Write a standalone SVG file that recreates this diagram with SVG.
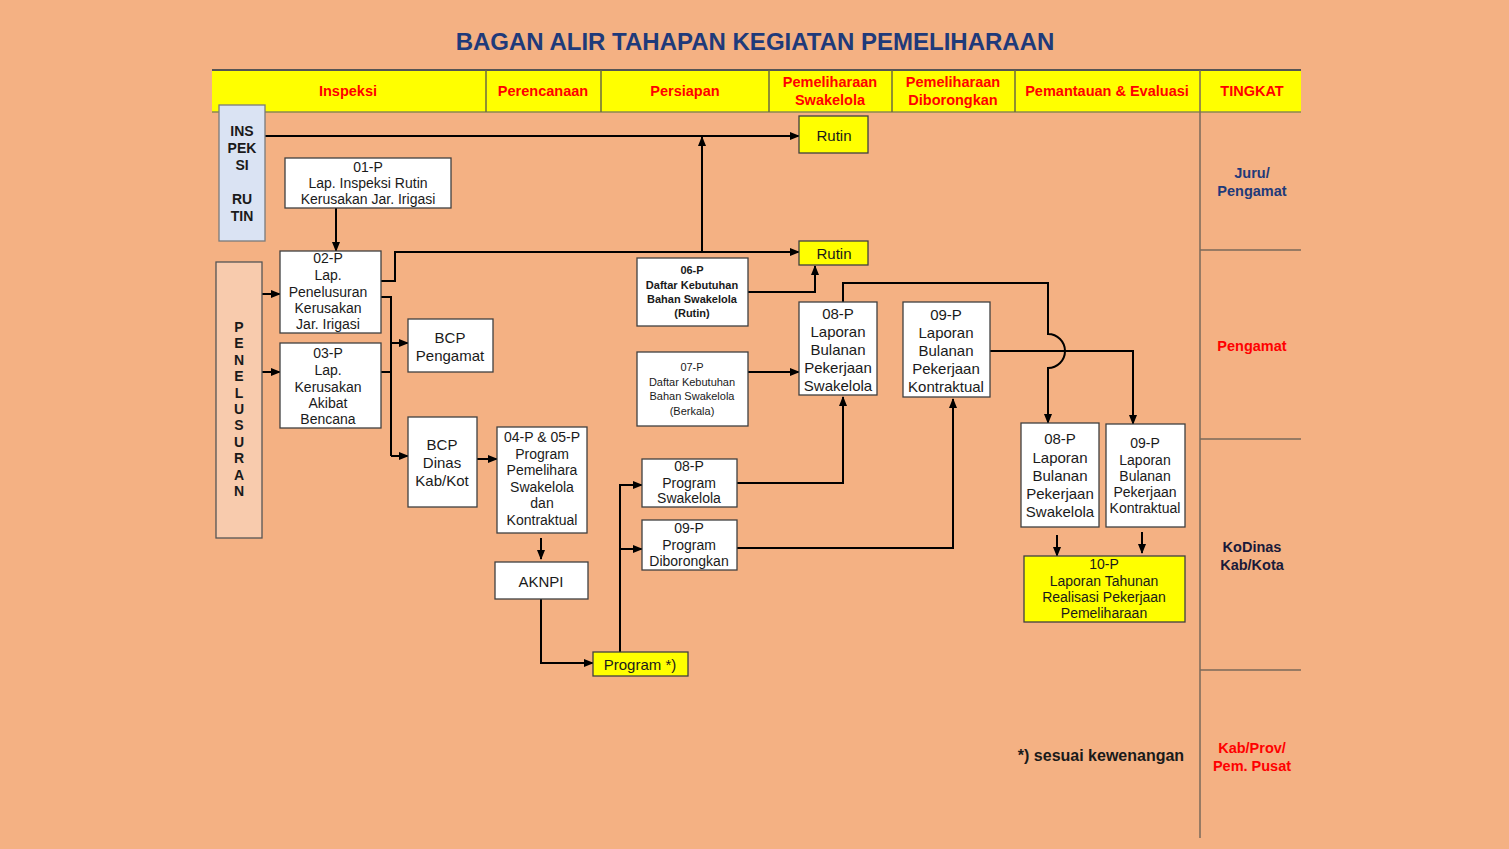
<svg xmlns="http://www.w3.org/2000/svg" width="1509" height="849" viewBox="0 0 1509 849">
<defs>
<marker id="ah" markerWidth="10" markerHeight="10" refX="9" refY="5" orient="auto" markerUnits="userSpaceOnUse">
<path d="M0,1 L10,5 L0,9 Z" fill="#000"/>
</marker>
<style>
text{font-family:"Liberation Sans",Arial,sans-serif;text-anchor:middle;dominant-baseline:central}
.hd{font-size:14.5px;font-weight:bold;fill:#FF0000}
.box{fill:#fff;stroke:#404040;stroke-width:1.3}
.ybox{fill:#FFFF00;stroke:#404040;stroke-width:1.3}
.t{font-size:14px;fill:#1a1a1a}
.t15{font-size:15px;fill:#1a1a1a}
.sb{font-size:11px;font-weight:bold;fill:#1a1a1a}
.sn{font-size:11px;fill:#1a1a1a}
.lv{font-size:14.5px;font-weight:bold}
.c{fill:none;stroke:#000;stroke-width:2}
.ca{fill:none;stroke:#000;stroke-width:2;marker-end:url(#ah)}
.grid{stroke:#7a6a5a;stroke-width:1.5}
</style>
</defs>
<rect width="1509" height="849" fill="#F4B183"/>
<text x="755" y="41" style="font-size:24px;font-weight:bold;fill:#1F3A7A">BAGAN ALIR TAHAPAN KEGIATAN PEMELIHARAAN</text>

<g id="header">
<rect x="212" y="70" width="1089" height="42" fill="#FFFF00"/>
<line x1="212" y1="70" x2="1301" y2="70" stroke="#555" stroke-width="2"/>
<line x1="212" y1="112" x2="1301" y2="112" stroke="#8a8a50" stroke-width="1.5"/>
<g stroke="#6b6b40" stroke-width="1.5">
<line x1="486" y1="70" x2="486" y2="112"/>
<line x1="601" y1="70" x2="601" y2="112"/>
<line x1="769" y1="70" x2="769" y2="112"/>
<line x1="892" y1="70" x2="892" y2="112"/>
<line x1="1015" y1="70" x2="1015" y2="112"/>
</g>
<text class="hd" x="348" y="91">Inspeksi</text>
<text class="hd" x="543" y="91">Perencanaan</text>
<text class="hd" x="685" y="91">Persiapan</text>
<text class="hd" x="830" y="82">Pemeliharaan</text>
<text class="hd" x="830" y="100">Swakelola</text>
<text class="hd" x="953" y="82">Pemeliharaan</text>
<text class="hd" x="953" y="100">Diborongkan</text>
<text class="hd" x="1107" y="91">Pemantauan &amp; Evaluasi</text>
<text class="hd" x="1252" y="91">TINGKAT</text>
</g>

<g id="levels">
<line class="grid" x1="1200" y1="70" x2="1200" y2="838"/>
<line class="grid" x1="1200" y1="250" x2="1301" y2="250"/>
<line class="grid" x1="1200" y1="439" x2="1301" y2="439"/>
<line class="grid" x1="1200" y1="670" x2="1301" y2="670"/>
<text class="lv" x="1252" y="173" fill="#1F3A7A">Juru/</text>
<text class="lv" x="1252" y="191" fill="#1F3A7A">Pengamat</text>
<text class="lv" x="1252" y="346" fill="#FF0000">Pengamat</text>
<text class="lv" x="1252" y="547" fill="#1a1a3a">KoDinas</text>
<text class="lv" x="1252" y="565" fill="#1a1a3a">Kab/Kota</text>
<text class="lv" x="1252" y="748" fill="#FF0000">Kab/Prov/</text>
<text class="lv" x="1252" y="766" fill="#FF0000">Pem. Pusat</text>
</g>

<g id="connectors">
<path class="ca" d="M265,136 H799"/>
<path class="ca" d="M336,208 V251"/>
<path class="ca" d="M262,294 H280"/>
<path class="ca" d="M262,372 H280"/>
<path class="ca" d="M381,281 H395 V252 H799"/>
<path class="ca" d="M702,252 V137"/>
<path class="c" d="M381,297 H391 V456"/>
<path class="c" d="M381,372 H391"/>
<path class="ca" d="M391,343 H408"/>
<path class="ca" d="M391,456 H408"/>
<path class="ca" d="M477,459 H497"/>
<path class="ca" d="M541,538 V559"/>
<path class="ca" d="M541,599 V663 H593"/>
<path class="ca" d="M620,652 V485 H642"/>
<path class="ca" d="M620,549 H642"/>
<path class="ca" d="M748,292 H815 V266"/>
<path class="ca" d="M748,372 H799"/>
<path class="ca" d="M737,483 H843 V397"/>
<path class="ca" d="M737,548 H953 V399"/>
<path class="ca" d="M843,302 V283 H1048 V334 A17,17 0 0 1 1048,368 V423"/>
<path class="ca" d="M990,351 H1133 V424"/>
<path class="ca" d="M1057,535 V556"/>
<path class="ca" d="M1142,532 V553"/>
</g>

<g id="inspeksi-rutin">
<rect x="219" y="105" width="46" height="136" fill="#DAE3F3" stroke="#7a7a7a" stroke-width="1.3"/>
<g style="font-size:14px;font-weight:bold;fill:#1a1a1a">
<text x="242" y="131">INS</text>
<text x="242" y="148">PEK</text>
<text x="242" y="165">SI</text>
<text x="242" y="199">RU</text>
<text x="242" y="216">TIN</text>
</g>
</g>

<g id="penelusuran">
<rect x="216" y="262" width="46" height="276" fill="#F8CBAD" stroke="#555" stroke-width="1.3"/>
<g style="font-size:14px;font-weight:bold;fill:#1a1a1a">
<text x="239" y="327">P</text><text x="239" y="343">E</text><text x="239" y="360">N</text><text x="239" y="376">E</text><text x="239" y="393">L</text><text x="239" y="409">U</text><text x="239" y="425">S</text><text x="239" y="442">U</text><text x="239" y="458">R</text><text x="239" y="475">A</text><text x="239" y="491">N</text>
</g>
</g>

<g id="n01p">
<rect class="box" x="285" y="158" width="166" height="50"/>
<text class="t" x="368" y="167">01-P</text>
<text class="t" x="368" y="183">Lap. Inspeksi Rutin</text>
<text class="t" x="368" y="199">Kerusakan Jar. Irigasi</text>
</g>

<g id="n02p">
<rect class="box" x="280" y="251" width="101" height="82"/>
<text class="t" x="328" y="258">02-P</text>
<text class="t" x="328" y="275">Lap.</text>
<text class="t" x="328" y="292">Penelusuran</text>
<text class="t" x="328" y="308">Kerusakan</text>
<text class="t" x="328" y="324">Jar. Irigasi</text>
</g>

<g id="n03p">
<rect class="box" x="280" y="343" width="101" height="85"/>
<text class="t" x="328" y="353">03-P</text>
<text class="t" x="328" y="370">Lap.</text>
<text class="t" x="328" y="387">Kerusakan</text>
<text class="t" x="328" y="403">Akibat</text>
<text class="t" x="328" y="419">Bencana</text>
</g>

<g id="bcp-pengamat">
<rect class="box" x="408" y="319" width="85" height="53"/>
<text class="t15" x="450" y="337">BCP</text>
<text class="t15" x="450" y="355">Pengamat</text>
</g>

<g id="bcp-dinas">
<rect class="box" x="408" y="417" width="69" height="90"/>
<text class="t15" x="442" y="444">BCP</text>
<text class="t15" x="442" y="462">Dinas</text>
<text class="t15" x="442" y="480">Kab/Kot</text>
</g>

<g id="n0405p">
<rect class="box" x="497" y="427" width="90" height="106"/>
<text class="t" x="542" y="437">04-P &amp; 05-P</text>
<text class="t" x="542" y="454">Program</text>
<text class="t" x="542" y="470">Pemelihara</text>
<text class="t" x="542" y="487">Swakelola</text>
<text class="t" x="542" y="503">dan</text>
<text class="t" x="542" y="520">Kontraktual</text>
</g>

<g id="aknpi">
<rect class="box" x="495" y="562" width="93" height="37"/>
<text class="t15" x="541" y="581">AKNPI</text>
</g>

<g id="program">
<rect class="ybox" x="593" y="652" width="95" height="24"/>
<text class="t15" x="640" y="664">Program *)</text>
</g>

<g id="n06p">
<rect class="box" x="637" y="258" width="111" height="68"/>
<text class="sb" x="692" y="270">06-P</text>
<text class="sb" x="692" y="285">Daftar Kebutuhan</text>
<text class="sb" x="692" y="299">Bahan Swakelola</text>
<text class="sb" x="692" y="313">(Rutin)</text>
</g>

<g id="n07p">
<rect class="box" x="637" y="352" width="111" height="74"/>
<text class="sn" x="692" y="367">07-P</text>
<text class="sn" x="692" y="382">Daftar Kebutuhan</text>
<text class="sn" x="692" y="396">Bahan Swakelola</text>
<text class="sn" x="692" y="411">(Berkala)</text>
</g>

<g id="n08p-program">
<rect class="box" x="642" y="459" width="95" height="48"/>
<text class="t" x="689" y="466">08-P</text>
<text class="t" x="689" y="483">Program</text>
<text class="t" x="689" y="498">Swakelola</text>
</g>

<g id="n09p-program">
<rect class="box" x="642" y="520" width="95" height="50"/>
<text class="t" x="689" y="528">09-P</text>
<text class="t" x="689" y="545">Program</text>
<text class="t" x="689" y="561">Diborongkan</text>
</g>

<g id="rutin1">
<rect class="ybox" x="799" y="116" width="69" height="37"/>
<text class="t15" x="834" y="135">Rutin</text>
</g>

<g id="rutin2">
<rect class="ybox" x="799" y="241" width="69" height="24"/>
<text class="t15" x="834" y="253">Rutin</text>
</g>

<g id="n08p-lap">
<rect class="box" x="799" y="302" width="78" height="93"/>
<text class="t15" x="838" y="313">08-P</text>
<text class="t15" x="838" y="331">Laporan</text>
<text class="t15" x="838" y="349">Bulanan</text>
<text class="t15" x="838" y="367">Pekerjaan</text>
<text class="t15" x="838" y="385">Swakelola</text>
</g>

<g id="n09p-lap">
<rect class="box" x="903" y="302" width="87" height="95"/>
<text class="t15" x="946" y="314">09-P</text>
<text class="t15" x="946" y="332">Laporan</text>
<text class="t15" x="946" y="350">Bulanan</text>
<text class="t15" x="946" y="368">Pekerjaan</text>
<text class="t15" x="946" y="386">Kontraktual</text>
</g>

<g id="n08p-lap2">
<rect class="box" x="1021" y="423" width="78" height="104"/>
<text class="t15" x="1060" y="438">08-P</text>
<text class="t15" x="1060" y="457">Laporan</text>
<text class="t15" x="1060" y="475">Bulanan</text>
<text class="t15" x="1060" y="493">Pekerjaan</text>
<text class="t15" x="1060" y="511">Swakelola</text>
</g>

<g id="n09p-lap2">
<rect class="box" x="1106" y="424" width="79" height="103"/>
<text class="t" x="1145" y="443">09-P</text>
<text class="t" x="1145" y="460">Laporan</text>
<text class="t" x="1145" y="476">Bulanan</text>
<text class="t" x="1145" y="492">Pekerjaan</text>
<text class="t" x="1145" y="508">Kontraktual</text>
</g>

<g id="n10p">
<rect class="ybox" x="1024" y="556" width="161" height="66"/>
<text class="t" x="1104" y="564">10-P</text>
<text class="t" x="1104" y="581">Laporan Tahunan</text>
<text class="t" x="1104" y="597">Realisasi Pekerjaan</text>
<text class="t" x="1104" y="613">Pemeliharaan</text>
</g>

<text x="1101" y="755" style="font-size:16px;font-weight:bold;fill:#1a1a1a">*) sesuai kewenangan</text>
</svg>
